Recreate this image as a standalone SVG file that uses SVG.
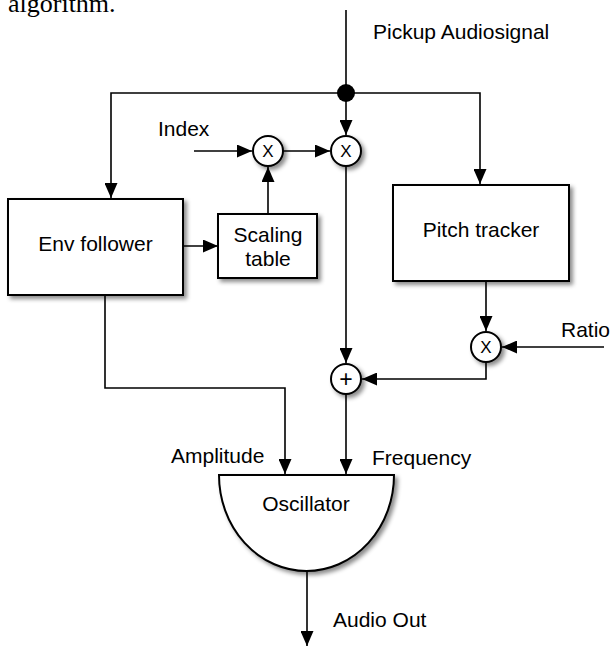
<svg xmlns="http://www.w3.org/2000/svg" width="610" height="646" viewBox="0 0 610 646">
<defs>
<style>
text{font-family:"Liberation Sans",Arial,sans-serif;font-size:21px;fill:#000}
.c{text-anchor:middle}
.op{font-size:17px;text-anchor:middle}
.plus{font-size:23px}
.box{fill:#fff;stroke:#000;stroke-width:2;filter:url(#sh)}
.wire{fill:none;stroke:#000;stroke-width:1.6;marker-end:url(#ah)}
.plain{fill:none;stroke:#000;stroke-width:1.6}
.cap{font-family:"Liberation Serif","Times New Roman",serif;font-size:26px}
</style>
<filter id="sh" x="-20%" y="-20%" width="150%" height="150%">
<feDropShadow dx="3" dy="3" stdDeviation="2" flood-color="#000" flood-opacity="0.45"/>
</filter>
<marker id="ah" markerUnits="userSpaceOnUse" markerWidth="15" markerHeight="13" refX="15" refY="6.5" orient="auto">
<path d="M0,0 L15,6.5 L0,13 Z" fill="#000"/>
</marker>
</defs>
<rect width="610" height="646" fill="#fff"/>
<text class="cap" x="8" y="12">algorithm.</text>

<g id="connectors">
<line class="plain" x1="346" y1="10" x2="346" y2="93"/>
<path class="wire" d="M346,93 H111 V198"/>
<path class="wire" d="M346,93 H480 V184"/>
<path class="wire" d="M346,93 V135"/>
<path class="wire" d="M194,151 H252"/>
<path class="wire" d="M283,151 H330"/>
<path class="wire" d="M268,214 V167"/>
<path class="wire" d="M183,246 H218"/>
<path class="wire" d="M346,166 V363"/>
<path class="wire" d="M486,281 V331"/>
<path class="wire" d="M604,347 H502"/>
<path class="wire" d="M486,362 V379 H362"/>
<path class="wire" d="M105,295 V388 H285 V474"/>
<path class="wire" d="M346,394 V474"/>
<path class="wire" d="M307,571 V646"/>
<circle cx="346" cy="93" r="9" fill="#000"/>
</g>

<g id="env-follower">
<rect class="box" x="8" y="199" width="175" height="96"/>
<text class="c" x="95.5" y="251">Env follower</text>
</g>
<g id="scaling-table">
<rect class="box" x="218" y="214" width="99" height="64"/>
<text class="c" x="268" y="242">Scaling</text>
<text class="c" x="268" y="266">table</text>
</g>
<g id="pitch-tracker">
<rect class="box" x="393" y="185" width="176" height="96"/>
<text class="c" x="481" y="237">Pitch tracker</text>
</g>
<g id="mult-index">
<circle class="box" cx="268" cy="151" r="15" stroke-width="1.6"/>
<text class="op" x="268" y="157">X</text>
</g>
<g id="mult-signal">
<circle class="box" cx="346" cy="151" r="15" stroke-width="1.6"/>
<text class="op" x="346" y="157">X</text>
</g>
<g id="mult-ratio">
<circle class="box" cx="486" cy="347" r="15" stroke-width="1.6"/>
<text class="op" x="486" y="353">X</text>
</g>
<g id="adder">
<circle class="box" cx="346" cy="379" r="15" stroke-width="1.6"/>
<text class="op plus" x="346" y="386.5">+</text>
</g>
<g id="oscillator">
<path class="box" d="M219,475 H394 A87.5,96 0 0 1 219,475 Z"/>
<text class="c" x="306" y="511">Oscillator</text>
</g>

<g id="labels">
<text x="373" y="39">Pickup Audiosignal</text>
<text x="158" y="136">Index</text>
<text x="561" y="337">Ratio</text>
<text x="171" y="463">Amplitude</text>
<text x="372" y="465">Frequency</text>
<text x="333" y="627">Audio Out</text>
</g>
</svg>
